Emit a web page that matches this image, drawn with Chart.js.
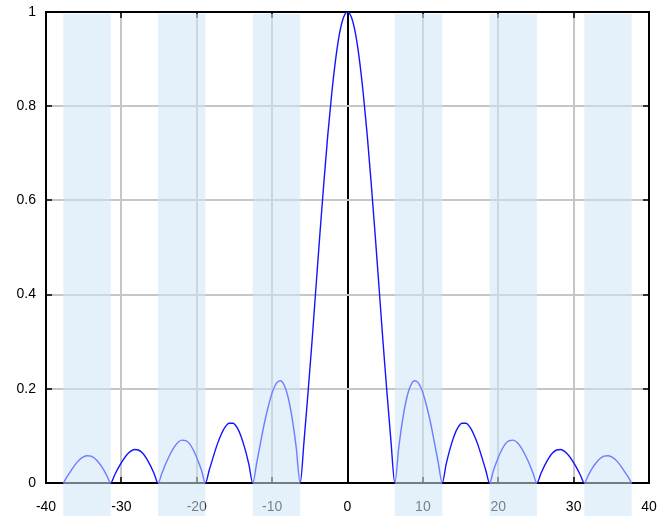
<!DOCTYPE html>
<html>
<head>
<meta charset="utf-8">
<script src="https://cdn.jsdelivr.net/npm/chart.js@4"></script>
<style>
  html, body { margin: 0; padding: 0; background: #fff; }
  #wrap { width: 659px; height: 516px; }
</style>
</head>
<body>
<div id="wrap"><canvas id="chart" width="659" height="516"></canvas></div>
<script>
// ====================== DATA ======================
// sample positions along x
const xValues = [
  -37.70, -37.18, -36.65, -36.13, -35.60, -35.08, -34.56, -34.03, -33.51, -32.99, -32.46, -31.94,
  -31.42, -30.89, -30.37, -29.85, -29.32, -28.80, -28.27, -27.75, -27.23, -26.70, -26.18, -25.66,
  -25.13, -24.61, -24.09, -23.56, -23.04, -22.51, -21.99, -21.47, -20.94, -20.42, -19.90, -19.37,
  -18.85, -18.33, -17.80, -17.28, -16.76, -16.23, -15.71, -15.18, -14.66, -14.14, -13.61, -13.09,
  -12.57, -12.04, -11.52, -11.00, -10.47, -9.95, -9.42, -8.90, -8.38, -7.85, -7.33, -6.81,
  -6.28, -5.76, -5.24, -4.71, -4.19, -3.67, -3.14, -2.62, -2.09, -1.57, -1.05, -0.52,
  0,
  0.52, 1.05, 1.57, 2.09, 2.62, 3.14, 3.67, 4.19, 4.71, 5.24, 5.76, 6.28,
  6.81, 7.33, 7.85, 8.38, 8.90, 9.42, 9.95, 10.47, 11.00, 11.52, 12.04, 12.57,
  13.09, 13.61, 14.14, 14.66, 15.18, 15.71, 16.23, 16.76, 17.28, 17.80, 18.33, 18.85,
  19.37, 19.90, 20.42, 20.94, 21.47, 21.99, 22.51, 23.04, 23.56, 24.09, 24.61, 25.13,
  25.66, 26.18, 26.70, 27.23, 27.75, 28.27, 28.80, 29.32, 29.85, 30.37, 30.89, 31.42,
  31.94, 32.46, 32.99, 33.51, 34.03, 34.56, 35.08, 35.60, 36.13, 36.65, 37.18, 37.70
];

// curve height at each sample
const yValues = [
  0, 0.014, 0.027, 0.039, 0.049, 0.055, 0.058, 0.057, 0.052, 0.043, 0.031, 0.016,
  0, 0.017, 0.033, 0.047, 0.059, 0.067, 0.071, 0.070, 0.064, 0.053, 0.038, 0.020,
  0, 0.021, 0.042, 0.060, 0.075, 0.086, 0.091, 0.090, 0.083, 0.069, 0.050, 0.027,
  0, 0.028, 0.056, 0.082, 0.103, 0.119, 0.127, 0.127, 0.118, 0.100, 0.073, 0.040,
  0, 0.043, 0.087, 0.129, 0.165, 0.194, 0.212, 0.217, 0.207, 0.180, 0.136, 0.076,
  0, 0.090, 0.191, 0.300, 0.414, 0.527, 0.637, 0.738, 0.827, 0.900, 0.955, 0.989,
  1,
  0.989, 0.955, 0.900, 0.827, 0.738, 0.637, 0.527, 0.414, 0.300, 0.191, 0.090, 0,
  0.076, 0.136, 0.180, 0.207, 0.217, 0.212, 0.194, 0.165, 0.129, 0.087, 0.043, 0,
  0.040, 0.073, 0.100, 0.118, 0.127, 0.127, 0.119, 0.103, 0.082, 0.056, 0.028, 0,
  0.027, 0.050, 0.069, 0.083, 0.090, 0.091, 0.086, 0.075, 0.060, 0.042, 0.021, 0,
  0.020, 0.038, 0.053, 0.064, 0.070, 0.071, 0.067, 0.059, 0.047, 0.033, 0.017, 0,
  0.016, 0.031, 0.043, 0.052, 0.057, 0.058, 0.055, 0.049, 0.039, 0.027, 0.014, 0
];

// shaded bands (lobes drawn in the lighter colour)
const bandStart = [-37.70, -25.13, -12.57, 6.28, 18.85, 31.42];
const bandEnd   = [-31.42, -18.85, -6.28, 12.57, 25.13, 37.70];

// axes
const xTicks = [-40, -30, -20, -10, 0, 10, 20, 30, 40];
const yTicks = [0, 0.2, 0.4, 0.6, 0.8, 1];

// ====================== HELPERS ======================
const DARK = '#1414ff';
const LIGHT = '#6f7dff';
const GRID = '#c6c6c6';
const FONT = { family: 'Liberation Sans, Arial, sans-serif', size: 14 };

function inBand(x) {
  for (let i = 0; i < bandStart.length; i++) {
    if (x > bandStart[i] && x < bandEnd[i]) return true;
  }
  return false;
}

const framePlugin = {
  id: 'frameAndBands',
  beforeDatasetsDraw(chart) {
    const { ctx, chartArea: a, scales } = chart;
    const xs = scales.x, ys = scales.y;
    ctx.save();
    // top + right border
    ctx.strokeStyle = '#000';
    ctx.lineWidth = 2;
    ctx.beginPath();
    ctx.moveTo(a.left, a.top);
    ctx.lineTo(a.right, a.top);
    ctx.lineTo(a.right, a.bottom);
    ctx.stroke();

    // inner tick marks
    ctx.lineWidth = 1.5;
    ctx.beginPath();
    xTicks.forEach(v => {
      const px = Math.round(xs.getPixelForValue(v));
      ctx.moveTo(px, a.bottom); ctx.lineTo(px, a.bottom - 6);
      ctx.moveTo(px, a.top); ctx.lineTo(px, a.top + 6);
    });
    yTicks.forEach(v => {
      const py = Math.round(ys.getPixelForValue(v));
      ctx.moveTo(a.left, py); ctx.lineTo(a.left + 6, py);
      ctx.moveTo(a.right, py); ctx.lineTo(a.right - 6, py);
    });
    ctx.stroke();

    // bands, laid over grid, axis and labels
    ctx.fillStyle = 'rgba(205, 228, 245, 0.55)';
    for (let i = 0; i < bandStart.length; i++) {
      const x0 = xs.getPixelForValue(bandStart[i]);
      const x1 = xs.getPixelForValue(bandEnd[i]);
      ctx.fillRect(x0, a.top + 2, x1 - x0, chart.height - a.top - 2);
    }
    ctx.restore();
  }
};

// ====================== CHART ======================
const points = xValues.map((x, i) => ({ x: x, y: yValues[i] }));

new Chart(document.getElementById('chart'), {
  type: 'line',
  data: {
    datasets: [{
      data: points,
      borderColor: DARK,
      borderWidth: 1.4,
      pointRadius: 0,
      cubicInterpolationMode: 'monotone',
      segment: {
        borderColor: c => inBand((c.p0.parsed.x + c.p1.parsed.x) / 2) ? LIGHT : DARK
      }
    }]
  },
  plugins: [framePlugin],
  options: {
    responsive: false,
    animation: false,
    layout: { padding: { top: 12, right: 10, left: 0, bottom: 0 } },
    plugins: { legend: { display: false }, tooltip: { enabled: false } },
    scales: {
      x: {
        type: 'linear',
        min: -40, max: 40,
        afterBuildTicks: s => { s.ticks = xTicks.map(v => ({ value: v })); },
        afterFit: s => { s.height = 33; s.paddingLeft = 0; s.paddingRight = 0; },
        ticks: {
          color: '#000',
          padding: 16,
          maxRotation: 0,
          callback: v => String(v),
          font: FONT
        },
        grid: {
          drawTicks: false,
          color: c => {
            const v = c.tick ? c.tick.value : null;
            if (v === 0) return '#000';
            if (v === -40 || v === 40) return 'rgba(0,0,0,0)';
            return GRID;
          },
          lineWidth: 2
        },
        border: { color: '#000', width: 2 }
      },
      y: {
        min: 0, max: 1,
        afterBuildTicks: s => { s.ticks = yTicks.map(v => ({ value: v })); },
        afterFit: s => { s.width = 46; s.paddingTop = 0; s.paddingBottom = 0; },
        ticks: {
          color: '#000',
          padding: 10,
          callback: v => String(v),
          font: FONT
        },
        grid: {
          drawTicks: false,
          color: c => {
            const v = c.tick ? c.tick.value : null;
            if (v === 0 || v === 1) return 'rgba(0,0,0,0)';
            return GRID;
          },
          lineWidth: 2
        },
        border: { color: '#000', width: 2 }
      }
    }
  }
});
</script>
</body>
</html>
